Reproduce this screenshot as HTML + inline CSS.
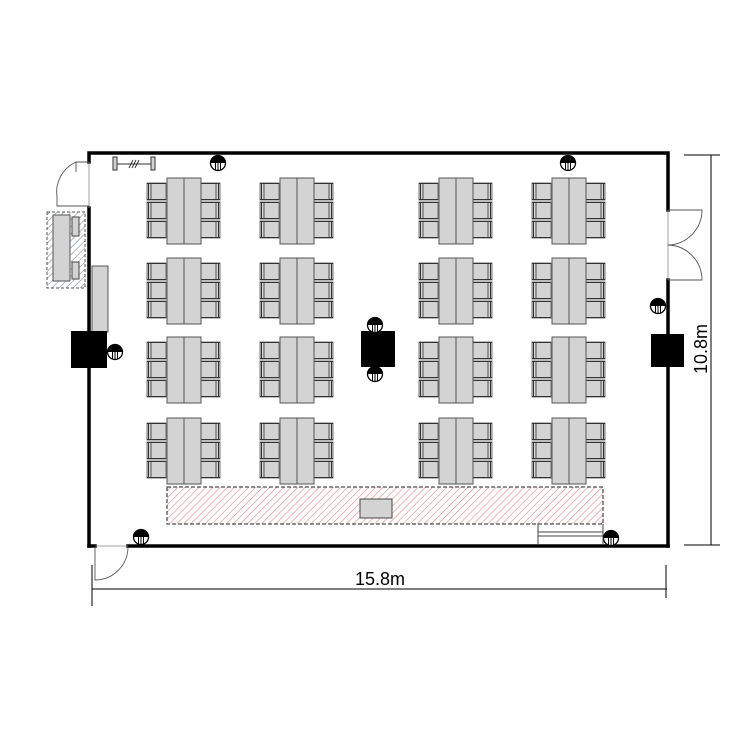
<!DOCTYPE html>
<html><head><meta charset="utf-8"><style>
html,body{margin:0;padding:0;background:#fff;}
svg{display:block;}
</style></head><body>
<svg width="750" height="750" viewBox="0 0 750 750" xmlns="http://www.w3.org/2000/svg">
<defs>
  <pattern id="hr" patternUnits="userSpaceOnUse" width="5" height="5" patternTransform="rotate(45)">
    <rect width="5" height="5" fill="#fff"/>
    <line x1="0" y1="0" x2="0" y2="5" stroke="#e08a8a" stroke-width="1.2"/>
  </pattern>
  <pattern id="hb" patternUnits="userSpaceOnUse" width="5" height="5" patternTransform="rotate(45)">
    <rect width="5" height="5" fill="#fff"/>
    <line x1="0" y1="0" x2="0" y2="5" stroke="#7d8fa8" stroke-width="1.2"/>
  </pattern>
  <g id="chL">
    <rect x="0" y="0" width="19" height="17" fill="#d3d3d3" stroke="#555" stroke-width="0.8"/>
    <line x1="1.5" y1="0" x2="1.5" y2="17" stroke="#333" stroke-width="1"/>
    <line x1="4" y1="0" x2="4" y2="17" stroke="#333" stroke-width="0.8"/>
    <line x1="0" y1="0.5" x2="19" y2="0.5" stroke="#333" stroke-width="1"/>
    <line x1="0" y1="16.5" x2="19" y2="16.5" stroke="#333" stroke-width="1"/>
  </g>
  <g id="chR">
    <rect x="0" y="0" width="19" height="17" fill="#d3d3d3" stroke="#555" stroke-width="0.8"/>
    <line x1="17.5" y1="0" x2="17.5" y2="17" stroke="#333" stroke-width="1"/>
    <line x1="15" y1="0" x2="15" y2="17" stroke="#333" stroke-width="0.8"/>
    <line x1="0" y1="0.5" x2="19" y2="0.5" stroke="#333" stroke-width="1"/>
    <line x1="0" y1="16.5" x2="19" y2="16.5" stroke="#333" stroke-width="1"/>
  </g>
  <g id="grp">
    <use href="#chL" x="-20" y="5"/>
    <use href="#chL" x="-20" y="24"/>
    <use href="#chL" x="-20" y="43"/>
    <use href="#chR" x="34" y="5"/>
    <use href="#chR" x="34" y="24"/>
    <use href="#chR" x="34" y="43"/>
    <rect x="0" y="0" width="17" height="66" fill="#d3d3d3" stroke="#555" stroke-width="1"/>
    <rect x="17" y="0" width="17" height="66" fill="#d3d3d3" stroke="#555" stroke-width="1"/>
  </g>
  <g id="out">
    <circle cx="0" cy="0" r="7.5" fill="#fff" stroke="#000" stroke-width="1.3"/>
    <path d="M-7.5,0 A7.5,7.5 0 0 1 7.5,0 Z" fill="#000"/>
    <line x1="-2.5" y1="0" x2="-2.5" y2="7" stroke="#000" stroke-width="1"/>
    <line x1="0" y1="0" x2="0" y2="7.5" stroke="#000" stroke-width="1"/>
    <line x1="2.5" y1="0" x2="2.5" y2="7" stroke="#000" stroke-width="1"/>
  </g>
</defs>

<g stroke="#000" stroke-width="3.5" fill="none" stroke-linecap="square">
  <polyline points="89,162 89,153 668,153 668,210"/>
  <line x1="89" y1="208" x2="89" y2="546"/>
  <line x1="89" y1="546" x2="95" y2="546"/>
  <line x1="128" y1="546" x2="668" y2="546"/>
  <line x1="668" y1="280" x2="668" y2="546"/>
</g>
<g stroke="#888" stroke-width="0.8" fill="none">
  <line x1="89" y1="162" x2="89" y2="208"/>
  <line x1="668" y1="210" x2="668" y2="280"/>
  <line x1="95" y1="546" x2="128" y2="546"/>
</g>
<g stroke="#555" stroke-width="0.9" fill="none">
  <path d="M89,162 L76,162 L76,172"/>
  <path d="M76,162 A33,33 0 0 0 57,197 L57,206 L89,206"/>
  <path d="M668,210 L702,210 A35,35 0 0 1 668,245 A35,35 0 0 1 702,280 L668,280"/>
  <path d="M95,547 L95,580 A33,33 0 0 0 128,547"/>
</g>

<g stroke="#000" stroke-width="1" fill="none">
  <line x1="92" y1="589" x2="667" y2="589"/>
  <line x1="92" y1="565" x2="92" y2="606"/>
  <line x1="666" y1="565" x2="666" y2="598"/>
  <line x1="711" y1="155" x2="711" y2="545"/>
  <line x1="684" y1="155" x2="720" y2="155"/>
  <line x1="684" y1="545" x2="720" y2="545"/>
</g>
<text x="380" y="585" font-family="Liberation Sans, sans-serif" font-size="18" text-anchor="middle">15.8m</text>
<text x="0" y="0" transform="translate(707,349) rotate(-90)" font-family="Liberation Sans, sans-serif" font-size="18" text-anchor="middle">10.8m</text>

<g stroke="#333" stroke-width="1" fill="#d3d3d3">
  <rect x="113" y="157" width="4" height="13"/>
  <rect x="151" y="157" width="4" height="13"/>
  <line x1="117" y1="164" x2="151" y2="164"/>
  <line x1="129" y1="168" x2="133" y2="160"/>
  <line x1="132" y1="168" x2="136" y2="160"/>
  <line x1="135" y1="168" x2="139" y2="160"/>
</g>

<rect x="47" y="212" width="38" height="76" fill="url(#hb)" stroke="#555" stroke-width="1" stroke-dasharray="3,2"/>
<rect x="53" y="215" width="17" height="66" fill="#d3d3d3" stroke="#555" stroke-width="1"/>
<rect x="72" y="217" width="7" height="19" fill="#d3d3d3" stroke="#444" stroke-width="1"/>
<rect x="72" y="262" width="7" height="17" fill="#d3d3d3" stroke="#444" stroke-width="1"/>

<rect x="92" y="266" width="16" height="66" fill="#d3d3d3" stroke="#555" stroke-width="1"/>

<rect x="71" y="331" width="36" height="37" fill="#000"/>
<rect x="651" y="334" width="33" height="33" fill="#000"/>
<rect x="361" y="331" width="34" height="36" fill="#000"/>

<use href="#out" x="218" y="163"/>
<use href="#out" x="568" y="163"/>
<use href="#out" x="115" y="352"/>
<use href="#out" x="375" y="325"/>
<use href="#out" x="375" y="374"/>
<use href="#out" x="658" y="306"/>
<use href="#out" x="141" y="537"/>
<use href="#out" x="611" y="538"/>

<use href="#grp" x="167" y="178"/>
<use href="#grp" x="280" y="178"/>
<use href="#grp" x="439" y="178"/>
<use href="#grp" x="552" y="178"/>
<use href="#grp" x="167" y="258"/>
<use href="#grp" x="280" y="258"/>
<use href="#grp" x="439" y="258"/>
<use href="#grp" x="552" y="258"/>
<use href="#grp" x="167" y="337"/>
<use href="#grp" x="280" y="337"/>
<use href="#grp" x="439" y="337"/>
<use href="#grp" x="552" y="337"/>
<use href="#grp" x="167" y="418"/>
<use href="#grp" x="280" y="418"/>
<use href="#grp" x="439" y="418"/>
<use href="#grp" x="552" y="418"/>

<rect x="167" y="487" width="436" height="37" fill="url(#hr)" stroke="#222" stroke-width="1" stroke-dasharray="4,2"/>
<rect x="360" y="499" width="32" height="19" fill="#d3d3d3" stroke="#444" stroke-width="1"/>
<g stroke="#444" stroke-width="1" fill="none">
  <line x1="538" y1="524" x2="538" y2="545"/>
  <line x1="538" y1="532" x2="603" y2="532"/>
  <line x1="538" y1="536" x2="603" y2="536"/>
  <line x1="603" y1="524" x2="603" y2="545"/>
</g>
</svg>
</body></html>
